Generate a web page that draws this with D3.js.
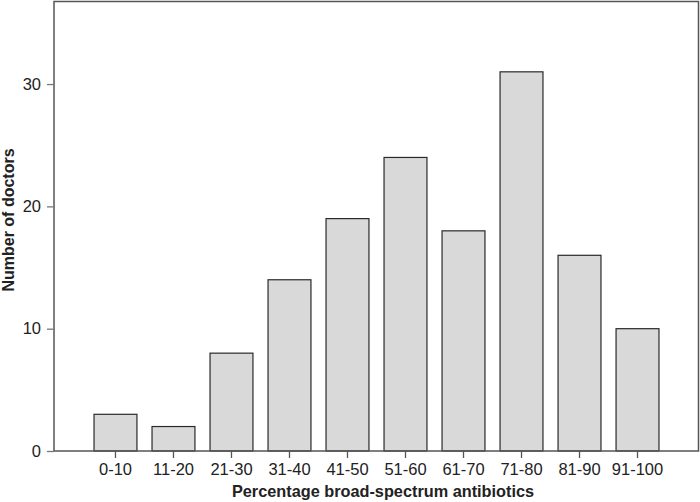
<!DOCTYPE html>
<html>
<head>
<meta charset="utf-8">
<script src="https://cdn.jsdelivr.net/npm/d3@7"></script>
<style>
  body { margin: 0; background: #fff; }
  text { font-family: "Liberation Sans", Arial, sans-serif; fill: #222; }
</style>
</head>
<body>
<div id="chart"></div>
<script>
let categories = ['0-10', '11-20', '21-30', '31-40', '41-50', '51-60', '61-70', '71-80', '81-90', '91-100']
let doctors = [3, 2, 8, 14, 19, 24, 18, 31, 16, 10]
let yTicks = [0, 10, 20, 30]

let width = 700, height = 502
let margin = {top: 1.5, right: 1, bottom: 51, left: 54}

let svg = d3.select('#chart')
  .append('svg')
  .attr('width', width)
  .attr('height', height)

let x = d3.scaleBand()
  .domain(categories)
  .range([margin.left, width - margin.right])
  .paddingInner(0.26)
  .paddingOuter(0.69)

let y = d3.scaleLinear()
  .domain([0, 36.75])
  .range([height - margin.bottom, margin.top])

// bars
svg.selectAll('.bar')
  .data(doctors)
  .enter()
  .append('rect')
  .attr('class', 'bar')
  .attr('x', function(d, i) { return x(categories[i]) })
  .attr('y', function(d) { return y(d) })
  .attr('width', x.bandwidth())
  .attr('height', function(d) { return y(0) - y(d) })
  .attr('fill', '#d9d9d9')
  .attr('stroke', '#2a2a2a')
  .attr('stroke-width', 1.2)

// frame
svg.append('rect')
  .attr('x', margin.left)
  .attr('y', margin.top)
  .attr('width', width - margin.left - margin.right - 0.5)
  .attr('height', y(0) - margin.top)
  .attr('fill', 'none')
  .attr('stroke', '#555')
  .attr('stroke-width', 1.5)

// y axis
let yAxis = svg.append('g')
  .attr('transform', `translate(${margin.left},0)`)
  .call(d3.axisLeft(y).tickValues(yTicks).tickSize(7).tickPadding(6))
yAxis.select('.domain').remove()
yAxis.selectAll('line').attr('stroke', '#777').attr('stroke-width', 1.3)
yAxis.selectAll('text').style('font-size', '16.5px').attr('fill', '#222')

// x axis
let xAxis = svg.append('g')
  .attr('transform', `translate(0,${y(0)})`)
  .call(d3.axisBottom(x).tickSize(7).tickPadding(5))
xAxis.select('.domain').remove()
xAxis.selectAll('line').attr('stroke', '#555').attr('stroke-width', 1.3)
xAxis.selectAll('text').style('font-size', '16.5px').attr('fill', '#222')

// axis titles
svg.append('text')
  .attr('x', 383)
  .attr('y', 497)
  .attr('text-anchor', 'middle')
  .style('font-size', '16.3px')
  .style('font-weight', 'bold')
  .text('Percentage broad-spectrum antibiotics')

svg.append('text')
  .attr('transform', 'translate(14,220) rotate(-90)')
  .attr('text-anchor', 'middle')
  .style('font-size', '16px')
  .style('font-weight', 'bold')
  .text('Number of doctors')
</script>
</body>
</html>
